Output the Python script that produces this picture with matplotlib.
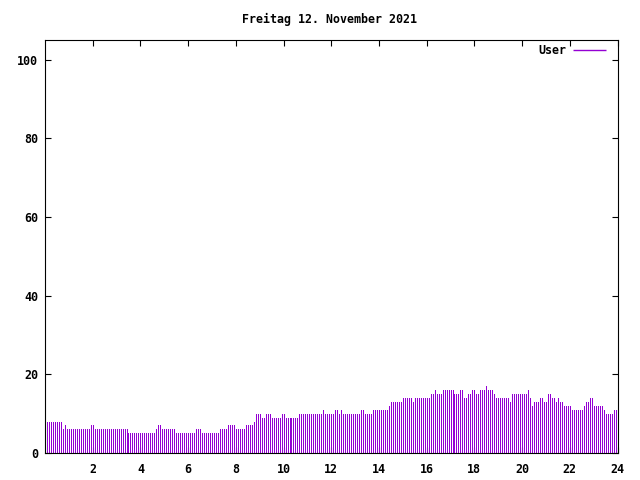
import numpy as np
import matplotlib
matplotlib.use("Agg")
import matplotlib.pyplot as plt

title = "Freitag 12. November 2021"
series_label = "User"

# 5-minute samples from 00:05 to 23:55
minutes = list(range(5, 1440, 5))
users = [
    8, 8, 8, 8, 8, 8, 8, 8, 6, 7, 6, 6, 6, 6, 6, 6, 6, 6, 6, 6, 6, 6, 7, 7,
    6, 6, 6, 6, 6, 6, 6, 6, 6, 6, 6, 6, 6, 6, 6, 6, 6, 5, 5, 5, 5, 5, 5, 5,
    5, 5, 5, 5, 5, 5, 5, 6, 7, 7, 6, 6, 6, 6, 6, 6, 6, 5, 5, 5, 5, 5, 5, 5,
    5, 5, 5, 6, 6, 6, 5, 5, 5, 5, 5, 5, 5, 5, 5, 6, 6, 6, 6, 7, 7, 7, 7, 6,
    6, 6, 6, 6, 7, 7, 7, 7, 8, 10, 10, 10, 9, 9, 10, 10, 10, 9, 9, 9, 9, 9, 10, 10,
    9, 9, 9, 9, 9, 9, 9, 10, 10, 10, 10, 10, 10, 10, 10, 10, 10, 10, 10, 11, 10, 10, 10, 10,
    10, 11, 11, 10, 11, 10, 10, 10, 10, 10, 10, 10, 10, 10, 11, 11, 10, 10, 10, 10, 11, 11, 11, 11,
    11, 11, 11, 11, 12, 13, 13, 13, 13, 13, 13, 14, 14, 14, 14, 14, 13, 14, 14, 14, 14, 14, 14, 14,
    14, 15, 15, 16, 15, 15, 15, 16, 16, 16, 16, 16, 16, 15, 15, 15, 16, 16, 14, 14, 15, 15, 16, 16,
    15, 15, 16, 16, 16, 17, 16, 16, 16, 15, 14, 14, 14, 14, 14, 14, 14, 13, 15, 15, 15, 15, 15, 15,
    15, 15, 16, 14, 12, 13, 13, 13, 14, 14, 13, 13, 15, 15, 14, 14, 13, 14, 13, 13, 12, 12, 12, 12,
    11, 11, 11, 11, 11, 11, 12, 13, 13, 14, 14, 12, 12, 12, 12, 12, 11, 10, 10, 10, 10, 11, 11,
]
xticks = [2, 4, 6, 8, 10, 12, 14, 16, 18, 20, 22, 24]
yticks = [0, 20, 40, 60, 80, 100]

color = "#9400D3"
font = dict(family="DejaVu Sans Mono", weight="bold", size=8.4)

fig = plt.figure(figsize=(6.4, 4.8), dpi=100)
W, H = 640, 480
L, R, T, B = 45, 617.5, 40, 453
ax = fig.add_axes([L / W, 1 - B / H, (R - L) / W, (B - T) / H])

hours = np.array(minutes) / 60.0
ax.vlines(hours, 0, users, colors=color, linewidth=0.5, antialiased=False,
          label=series_label)

ax.set_xlim(0, 24)
ax.set_ylim(0, 105)
ax.set_xticks(xticks)
ax.set_yticks(yticks)
ax.set_xticklabels([str(v) for v in xticks], fontdict=font)
ax.set_yticklabels([str(v) for v in yticks], fontdict=font)
ax.tick_params(direction="in", length=4, width=0.8, top=True, right=True,
               colors="black")
ax.tick_params(axis="x", pad=7)
ax.tick_params(axis="y", pad=5)
for s in ax.spines.values():
    s.set_linewidth(0.8)
    s.set_color("black")

fig.text(330 / W, 1 - 19 / H, title, ha="center", va="center", **font)

leg = ax.legend(loc="center right", bbox_to_anchor=(606 / W, 1 - 50.5 / H),
                bbox_transform=fig.transFigure, frameon=False, markerfirst=False,
                prop=dict(family="DejaVu Sans Mono", weight="bold", size=8.4),
                handlelength=2.8, handletextpad=0.6, borderaxespad=0.0,
                borderpad=0.0)
for h in leg.legend_handles:
    h.set_linewidth(1.0)

fig.savefig("out.png", dpi=100, facecolor="white")
